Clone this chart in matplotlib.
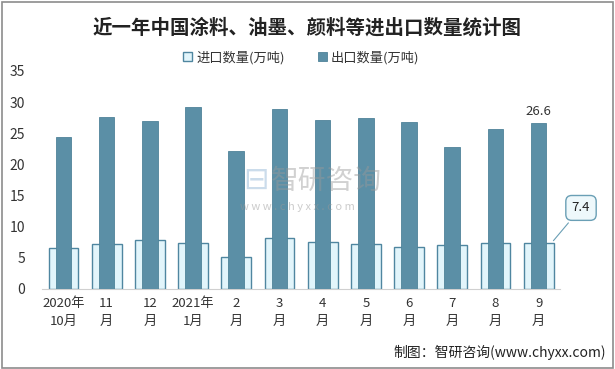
import numpy as np
import matplotlib.pyplot as plt
from matplotlib.patches import Rectangle

plt.rcParams['font.family'] = ['Noto Sans CJK SC', 'DejaVu Sans']

months = ['2020年\n10月', '11\n月', '12\n月', '2021年\n1月', '2\n月', '3\n月',
          '4\n月', '5\n月', '6\n月', '7\n月', '8\n月', '9\n月']
imports = [6.6, 7.2, 7.9, 7.4, 5.1, 8.2, 7.6, 7.2, 6.8, 7.1, 7.4, 7.4]
exports = [24.4, 27.6, 27.0, 29.2, 22.1, 28.9, 27.1, 27.4, 26.8, 22.8, 25.7, 26.6]

fig = plt.figure(figsize=(6.15, 3.69), dpi=100)
fig.patches.append(Rectangle((0.003, 0.004), 0.994, 0.99, transform=fig.transFigure,
                             fill=False, edgecolor='#8c8c8c', linewidth=1.2))
ax = fig.add_axes([0.068, 0.217, 0.843, 0.591])

x = np.arange(len(months))
ax.bar(x, imports, width=0.69, color='#e2f5fb', edgecolor='#4f86a0', linewidth=1.0,
       label='进口数量(万吨)', zorder=2)
ax.bar(x, exports, width=0.36, color='#5b8fa6', edgecolor='#4f8399', linewidth=0.6,
       label='出口数量(万吨)', zorder=3)

ax.set_ylim(0, 35)
ax.set_xlim(-0.5, len(months) - 0.5)
ax.set_yticks(range(0, 36, 5))
ax.set_xticks(x)
ax.set_xticklabels(months, fontsize=9.5, color='#333333', linespacing=1.5)
ax.tick_params(axis='y', length=0, labelsize=10, colors='#333333', pad=12)
ax.tick_params(axis='x', length=0, pad=6)
for s in ['top', 'right', 'left']:
    ax.spines[s].set_visible(False)
ax.spines['bottom'].set_color('#d0d0d0')

ax.annotate(f'{exports[-1]}', (x[-1], exports[-1]), xytext=(0, 4),
            textcoords='offset points', ha='center', va='bottom', fontsize=9.5, color='#333333')
ax.annotate(f'{imports[-1]}', xy=(x[-1] + 0.3, imports[-1]), xytext=(x[-1] + 0.98, 13.0),
            ha='center', va='center', fontsize=9.5, color='#222222',
            bbox=dict(boxstyle='round,pad=0.45', fc='#eef8fb', ec='#6a9fb5', lw=1),
            arrowprops=dict(arrowstyle='-', color='#6a9fb5', lw=0.8), zorder=5)

fig.text(0.5, 0.925, '近一年中国涂料、油墨、颜料等进出口数量统计图', ha='center', va='center',
         fontsize=14, fontweight='bold', color='#222222')
ax.legend(loc='center', bbox_to_anchor=(0.5, 1.06), ncol=2, frameon=False, fontsize=9.5,
          handlelength=0.7, handleheight=0.7, columnspacing=2.5, handletextpad=0.3,
          labelcolor='#333333')

fig.text(0.44, 0.51, '智研咨询', fontsize=20, color='#999999', alpha=0.45, ha='left', va='center')
fig.text(0.395, 0.51, '⊟', fontsize=22, color='#6b9bc8', alpha=0.35, ha='left', va='center')
fig.text(0.39, 0.44, 'w w w . c h y x x . c o m', fontsize=8, color='#999999', alpha=0.5,
         ha='left', va='center')
fig.text(0.985, 0.045, '制图：智研咨询(www.chyxx.com)', ha='right', va='center',
         fontsize=10, color='#222222')

fig.savefig('out.png', dpi=100)
